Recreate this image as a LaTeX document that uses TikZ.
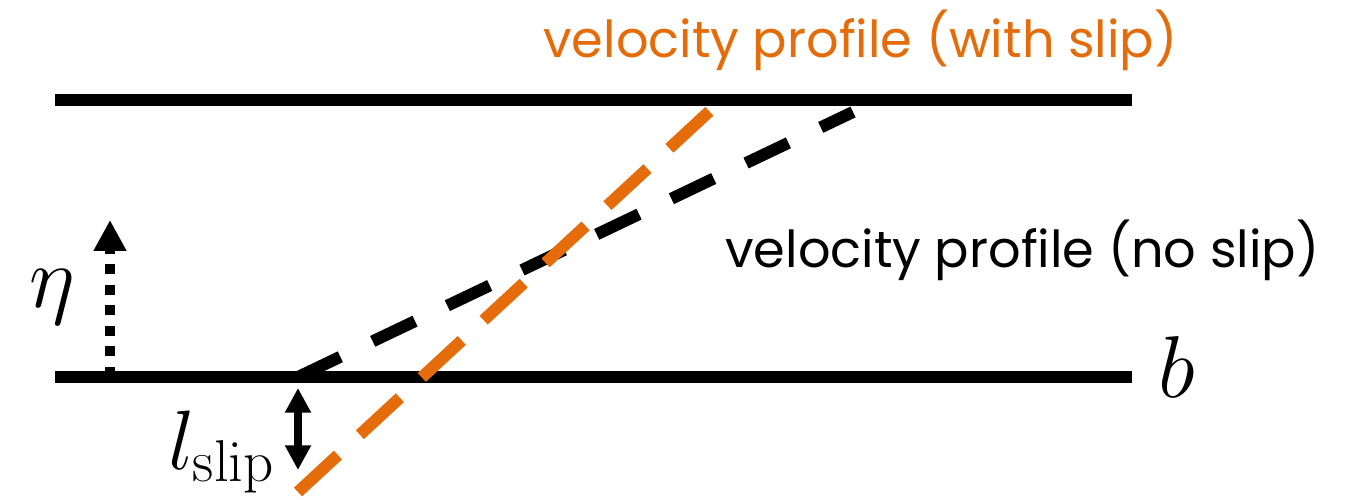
\RequirePackage{fix-cm}
\documentclass[tikz,border=0pt]{standalone}
\usepackage[no-math]{fontspec}
\setmainfont{Poppins}
\definecolor{slipor}{RGB}{228,108,10}
\usetikzlibrary{arrows.meta,positioning}

\begin{document}
\begin{tikzpicture}[x=0.02cm, y=-0.02cm,
    wall/.style={line width=6.8pt},
    prof/.style={line width=6.8pt, dash pattern=on 26.7pt off 20.4pt},
    profslip/.style={prof, slipor, dash pattern=on 31pt off 17pt},
    darr/.style={{Triangle[width=14pt,length=14pt]}-{Triangle[width=14pt,length=14pt]}, line width=4pt},
    etaarr/.style={-{Triangle[width=17.6pt,length=17.6pt]}, line width=6.2pt, dash pattern=on 5.7pt off 6pt},
    lbl/.style={font=\fontsize{29}{34}\selectfont, inner sep=0pt},
    sym/.style={font=\fontsize{50}{56}\selectfont, inner sep=0pt}
  ]
    \useasboundingbox (0,0) rectangle (1347,500);

    % walls
    \coordinate (tl) at (55,100);
    \coordinate (tr) at (1132,100);
    \coordinate (bl) at (55,377);
    \coordinate (br) at (1132,377);
    \draw[wall] (tl) -- (tr);
    \draw[wall] (bl) -- (br);

    % profiles
    \coordinate (ns0) at (298,377);
    \coordinate (ns1) at (853,112);
    \coordinate (ws0) at (298,492);
    \coordinate (ws1) at (727,95);
    \draw[prof] (ns0) -- (ns1);
    \draw[profslip] (ws0) -- (ws1);

    % labels
    \node[lbl, text=slipor, anchor=west] (wslbl) at (543,40) {velocity profile (with slip)};
    \node[lbl, anchor=west] (nslbl) at (725,250) {velocity profile (no slip)};
    \node[sym, anchor=base west] (b) at (1158,397) {$b$};

    % eta direction
    \coordinate (e0) at (110,377);
    \coordinate (e1) at (110,220);
    \draw[etaarr] (e0) -- (e1);
    \node[sym] (eta) at (52,297) {$\eta$};

    % slip length
    \coordinate (s0) at (298,388);
    \coordinate (s1) at (298,470);
    \draw[darr] (s0) -- (s1);
    \node[font=\fontsize{48}{54}\selectfont, inner sep=0pt, anchor=base east] (lslip) at (275,469) {$l_{\mathrm{slip}}$};
\end{tikzpicture}
\end{document}
